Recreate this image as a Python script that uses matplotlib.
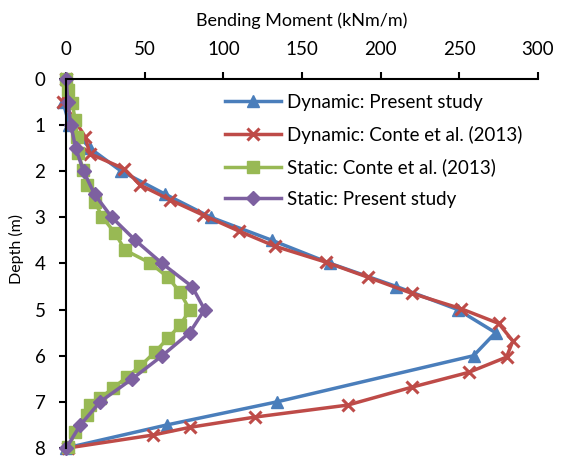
import matplotlib
matplotlib.use("Agg")
from matplotlib import pyplot as plt

# Dynamic: Present study
dyn_present_depth = [0, 0.5, 1, 1.5, 2, 2.5, 3, 3.5, 4, 4.5, 5, 5.5, 6, 7, 7.5, 8]
dyn_present_bm = [0, -2, 2, 15, 35, 63, 92, 131, 168, 210, 249, 273, 259, 134, 64, 0]

# Dynamic: Conte et al. (2013)
dyn_conte_depth = [0, 0.5, 1.25, 1.62, 1.95, 2.3, 2.62, 2.95, 3.3, 3.63, 3.97, 4.3,
                   4.65, 4.98, 5.3, 5.68, 6.03, 6.36, 6.68, 7.07, 7.33, 7.55, 7.72, 8]
dyn_conte_bm = [0, -2, 12, 15, 37, 47, 66, 87, 110, 133, 165, 192,
                220, 251, 275, 284, 280, 256, 220, 179, 120, 79, 55, 1]

# Static: Conte et al. (2013)
sta_conte_depth = [0, 0.24, 0.52, 0.89, 1.26, 1.6, 1.97, 2.3, 2.67, 2.99, 3.34, 3.71, 3.99,
                   4.3, 4.62, 5.01, 5.34, 5.62, 5.92, 6.23, 6.46, 6.7, 6.92, 7.07, 7.29, 7.66, 7.98]
sta_conte_bm = [0, 1.3, 3.8, 5.7, 7.0, 7.6, 10.8, 13.3, 18.4, 22.8, 31, 37.4, 53.3,
                64.7, 72.3, 78.6, 72.3, 64.7, 56.4, 46.9, 38.7, 29.8, 21.6, 15.2, 13.3, 5.7, 1.3]

# Static: Present study
sta_present_depth = [0, 0.5, 1, 1.5, 2, 2.5, 3, 3.5, 4, 4.5, 5, 5.5, 6, 6.5, 7, 7.5, 8]
sta_present_bm = [0, 1, 3, 6, 11, 18, 29, 44, 61, 80, 88, 78.5, 61, 42, 21.5, 9, 0]

x_ticks = [0, 50, 100, 150, 200, 250, 300]
y_ticks = [0, 1, 2, 3, 4, 5, 6, 7, 8]

plt.rcParams['font.family'] = ['Lato', 'DejaVu Sans']

fig = plt.figure(figsize=(5.76, 4.59), dpi=100)
ax = fig.add_axes([0.115, 0.024, 0.819, 0.804])

ax.plot(dyn_present_bm, dyn_present_depth, color='#4a7ebb', lw=2.5, marker='^', ms=9,
        label='Dynamic: Present study', clip_on=False)
ax.plot(dyn_conte_bm, dyn_conte_depth, color='#be4b48', lw=2.5, marker='x', ms=8.5, mew=2.2,
        label='Dynamic: Conte et al. (2013)', clip_on=False)
ax.plot(sta_conte_bm, sta_conte_depth, color='#98b954', lw=2.5, marker='s', ms=9,
        label='Static: Conte et al. (2013)', clip_on=False)
ax.plot(sta_present_bm, sta_present_depth, color='#7d60a0', lw=2.5, marker='D', ms=7,
        label='Static: Present study', clip_on=False)

ax.set_xlim(0, 300)
ax.set_ylim(8, 0)
ax.set_xticks(x_ticks)
ax.set_yticks(y_ticks)
ax.xaxis.tick_top()
ax.xaxis.set_label_position('top')
ax.set_xlabel('Bending Moment (kNm/m)', fontsize=13, labelpad=11)
ax.set_ylabel('Depth (m)', fontsize=11.5)
ax.yaxis.set_label_coords(-0.09, 0.54)
ax.tick_params(axis='both', labelsize=13.5, direction='out', length=5, width=1.5)
ax.tick_params(axis='x', pad=10)
ax.tick_params(axis='y', pad=10)
for s in ['bottom', 'right']:
    ax.spines[s].set_visible(False)
for s in ['top', 'left']:
    ax.spines[s].set_linewidth(1.5)

ax.legend(loc='upper left', bbox_to_anchor=(0.3, 1.005), frameon=False, fontsize=13.5,
          handlelength=3.0, labelspacing=0.78, handletextpad=0.3)

fig.savefig('out.png')
